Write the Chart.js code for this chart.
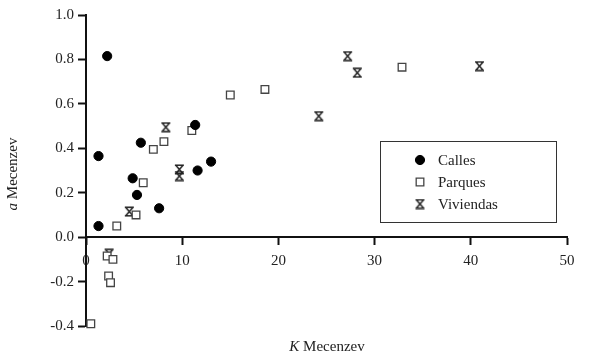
<!DOCTYPE html>
<html>
<head>
<meta charset="utf-8">
<script src="https://cdn.jsdelivr.net/npm/chart.js@4"></script>
<style>
  html, body { margin: 0; padding: 0; background: #fff; }
  #wrap { width: 589px; height: 363px; position: relative; }
</style>
</head>
<body>
<div id="wrap"><canvas id="chart"></canvas></div>
<script>
// ===== DATA (K Mecenzev, a Mecenzev) =====
const seriesNames = ['Calles', 'Parques', 'Viviendas'];

const callesK = [2.2, 1.3, 1.3, 4.85, 5.3, 7.6, 11.6, 13.0, 5.7, 11.35];
const callesA = [0.815, 0.365, 0.05, 0.265, 0.19, 0.13, 0.30, 0.34, 0.425, 0.505];

const parquesK = [0.5, 2.2, 2.8, 2.35, 2.55, 3.2, 5.2, 5.95, 7.0, 8.1, 11.0, 15.0, 18.6, 32.85];
const parquesA = [-0.39, -0.085, -0.10, -0.175, -0.205, 0.05, 0.10, 0.245, 0.395, 0.43, 0.48, 0.64, 0.665, 0.765];

const viviendasK = [2.4, 4.5, 8.3, 9.7, 9.7, 24.2, 27.2, 28.2, 40.9];
const viviendasA = [-0.075, 0.115, 0.495, 0.305, 0.275, 0.545, 0.815, 0.74, 0.77];

const xTicks = [0, 10, 20, 30, 40, 50];
const yTicks = [-0.4, -0.2, 0.0, 0.2, 0.4, 0.6, 0.8, 1.0];

const FONT = '"Liberation Serif", "DejaVu Serif", serif';

function toPoints(xs, ys) {
    return xs.map((x, i) => ({ x: x, y: ys[i] }));
}

// hourglass marker for Viviendas
function hourglass() {
    const c = document.createElement('canvas');
    c.width = 11;
    c.height = 11;
    const g = c.getContext('2d');
    g.strokeStyle = '#222';
    g.lineWidth = 1.5;
    g.beginPath();
    g.moveTo(1, 1.2); g.lineTo(10, 1.2);
    g.moveTo(1, 9.8); g.lineTo(10, 9.8);
    g.moveTo(1.8, 1.2); g.lineTo(9.2, 9.8);
    g.moveTo(9.2, 1.2); g.lineTo(1.8, 9.8);
    g.stroke();
    return c;
}
const hgMarker = hourglass();

// ===== AXIS TITLES + LEGEND =====
function mixedText(ctx, parts, x, y) {
    // parts: [[text, italic], ...] drawn centred at x
    const fonts = parts.map(p => (p[1] ? 'italic ' : '') + '15px ' + FONT);
    let total = 0;
    const widths = parts.map((p, i) => { ctx.font = fonts[i]; const w = ctx.measureText(p[0]).width; total += w; return w; });
    let cx = x - total / 2;
    parts.forEach((p, i) => {
        ctx.font = fonts[i];
        ctx.fillText(p[0], cx, y);
        cx += widths[i];
    });
}

const extras = {
    id: 'extras',
    afterDraw(chart) {
        const ctx = chart.ctx;
        ctx.save();
        ctx.fillStyle = '#222';
        ctx.textBaseline = 'middle';
        ctx.textAlign = 'left';
        mixedText(ctx, [['K', true], [' Mecenzev', false]], 327, 347);

        ctx.save();
        ctx.translate(13, 174);
        ctx.rotate(-Math.PI / 2);
        mixedText(ctx, [['a', true], [' Mecenzev', false]], 0, 0);
        ctx.restore();

        // legend box
        ctx.strokeStyle = '#333';
        ctx.lineWidth = 1;
        ctx.strokeRect(380.5, 141.5, 176, 81);
        ctx.font = '15px ' + FONT;
        const rowsY = [160, 182, 204];
        chart.data.datasets.forEach((ds, i) => {
            const opts = {
                pointStyle: ds.pointStyle,
                radius: ds.pointRadius,
                borderWidth: ds.borderWidth,
                rotation: 0
            };
            ctx.fillStyle = ds.backgroundColor;
            ctx.strokeStyle = ds.borderColor;
            ctx.lineWidth = ds.borderWidth;
            Chart.helpers.drawPoint(ctx, opts, 420, rowsY[i]);
            ctx.fillStyle = '#222';
            ctx.fillText(ds.label, 438, rowsY[i] + 1);
        });
        ctx.restore();
    }
};

// ===== CHART =====
const ctx = document.getElementById('chart');
const chart = new Chart(ctx, {
    type: 'scatter',
    data: {
        datasets: [{
            label: seriesNames[0],
            data: toPoints(callesK, callesA),
            pointStyle: 'circle',
            pointRadius: 4.6,
            backgroundColor: '#000',
            borderColor: '#000',
            borderWidth: 1,
            clip: false
        }, {
            label: seriesNames[1],
            data: toPoints(parquesK, parquesA),
            pointStyle: 'rect',
            pointRadius: 5.4,
            backgroundColor: '#fff',
            borderColor: '#444',
            borderWidth: 1.3,
            clip: false
        }, {
            label: seriesNames[2],
            data: toPoints(viviendasK, viviendasA),
            pointStyle: hgMarker,
            pointRadius: 5,
            backgroundColor: '#fff',
            borderColor: '#222',
            borderWidth: 1,
            clip: false
        }]
    },
    options: {
        responsive: true,
        maintainAspectRatio: false,
        animation: false,
        events: [],
        layout: {
            padding: { left: 0, right: 22, top: 15, bottom: 37 }
        },
        plugins: {
            legend: { display: false },
            tooltip: { enabled: false }
        },
        scales: {
            x: {
                type: 'linear',
                position: { y: 0 },
                min: xTicks[0],
                max: xTicks[xTicks.length - 1],
                afterBuildTicks: (scale) => { scale.ticks = xTicks.map(v => ({ value: v })); },
                border: { display: true, color: '#111', width: 2 },
                grid: {
                    drawOnChartArea: false,
                    drawTicks: true,
                    tickLength: 7,
                    tickWidth: 2,
                    tickColor: '#111'
                },
                ticks: {
                    color: '#222',
                    padding: 8,
                    maxRotation: 0,
                    font: { family: FONT, size: 15 },
                    callback: (v) => String(v)
                }
            },
            y: {
                type: 'linear',
                position: 'left',
                min: yTicks[0],
                max: yTicks[yTicks.length - 1],
                afterBuildTicks: (scale) => { scale.ticks = yTicks.map(v => ({ value: v })); },
                afterFit: (scale) => { scale.width = 86; },
                border: { display: true, color: '#111', width: 2 },
                grid: {
                    drawOnChartArea: false,
                    drawTicks: true,
                    tickLength: 8,
                    tickWidth: 2,
                    tickColor: '#111'
                },
                ticks: {
                    color: '#222',
                    padding: 4,
                    font: { family: FONT, size: 15 },
                    callback: (v) => Number(v).toFixed(1)
                }
            }
        }
    },
    plugins: [extras]
});
</script>
</body>
</html>
